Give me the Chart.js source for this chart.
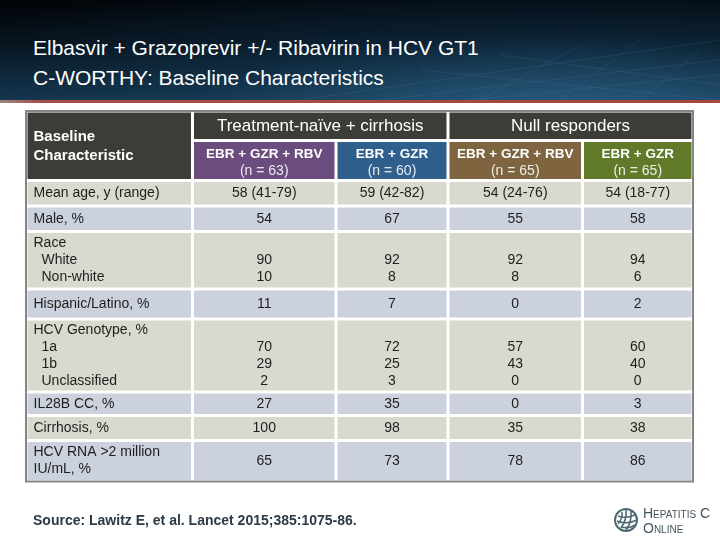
<!DOCTYPE html>
<html>
<head>
<meta charset="utf-8">
<script src="https://cdn.jsdelivr.net/npm/chart.js@4.4.1/dist/chart.umd.min.js"></script>
<style>
  body { margin: 0; width: 720px; height: 540px; position: relative; overflow: hidden; background: #fff; font-family: "Liberation Sans", Arial, sans-serif; }
  #band { position: absolute; left: 0; top: 0; width: 720px; height: 100px;
    background: radial-gradient(ellipse 700px 160px at 560px 120px, rgba(50,110,150,0.75), rgba(20,60,90,0.35) 55%, rgba(0,0,0,0) 100%),
                linear-gradient(180deg, #020509 0%, #07131d 45%, #14344c 100%); }
  #band svg { position: absolute; left: 0; top: 0; }
  #rule { position: absolute; left: 0; top: 100px; width: 720px; height: 3px; background: linear-gradient(90deg, #9a8580 0%, #a64d45 6%, #a8463e 100%); }
  h1 { position: absolute; left: 33px; top: 33px; margin: 0; font-weight: normal; font-size: 21px; line-height: 30px; color: #fff; }
  #table { position: absolute; left: 0; top: 0; }
  #source { position: absolute; left: 33px; top: 512px; font-size: 14px; font-weight: bold; color: #2c3947; }
  #logo { position: absolute; left: 613px; top: 506px; }
  #logo .txt { position: absolute; left: 30px; top: 0px; font-size: 14px; line-height: 15px; font-variant: small-caps; color: #44555e; white-space: nowrap; }
</style>
</head>
<body>
<div id="band">
  <svg width="720" height="100">
    <g stroke="#5a8fb0" stroke-opacity="0.16" stroke-width="1">
      <line x1="300" y1="100" x2="720" y2="40"/>
      <line x1="380" y1="100" x2="720" y2="60"/>
      <line x1="470" y1="100" x2="720" y2="75"/>
      <line x1="420" y1="70" x2="720" y2="100"/>
      <line x1="500" y1="55" x2="720" y2="85"/>
      <line x1="560" y1="100" x2="640" y2="40"/>
      <line x1="640" y1="100" x2="700" y2="50"/>
      <line x1="480" y1="100" x2="580" y2="45"/>
    </g>
  </svg>
</div>
<div id="rule"></div>
<h1>Elbasvir + Grazoprevir +/- Ribavirin in HCV GT1<br>C-WORTHY: Baseline Characteristics</h1>
<canvas id="table" width="720" height="540"></canvas>
<div id="source">Source: Lawitz E, et al. Lancet 2015;385:1075-86.</div>
<div id="logo">
  <svg width="28" height="28" viewBox="0 0 28 28">
    <circle cx="13" cy="14" r="11" fill="none" stroke="#4d6a73" stroke-width="2"/>
    <g stroke="#4d6a73" stroke-width="1.6" fill="none">
      <path d="M5 18 Q10 12 9 6"/>
      <path d="M8 22 Q14 14 13 4"/>
      <path d="M13 24 Q19 16 18 5"/>
      <path d="M5 10 Q12 13 22 9"/>
      <path d="M4 15 Q14 19 24 14"/>
      <path d="M8 21 Q16 23 22 19"/>
    </g>
  </svg>
  <div class="txt">Hepatitis C<br>Online</div>
</div>

<script>
// data
const cohorts = ['Treatment-naïve + cirrhosis', 'Null responders'];
const arms = ['EBR + GZR + RBV', 'EBR + GZR', 'EBR + GZR + RBV', 'EBR + GZR'];
const armN = [63, 60, 65, 65];
const characteristics = [
  ['Mean age, y (range)'],
  ['Male, %'],
  ['Race', ' White', ' Non-white'],
  ['Hispanic/Latino, %'],
  ['HCV Genotype, %', ' 1a', ' 1b', ' Unclassified'],
  ['IL28B CC, %'],
  ['Cirrhosis, %'],
  ['HCV RNA >2 million', 'IU/mL, %']
];
const naiveEbrGzrRbv = [['58 (41-79)'], ['54'], ['90', '10'], ['11'], ['70', '29', '2'], ['27'], ['100'], ['65']];
const naiveEbrGzr = [['59 (42-82)'], ['67'], ['92', '8'], ['7'], ['72', '25', '3'], ['35'], ['98'], ['73']];
const nullEbrGzrRbv = [['54 (24-76)'], ['55'], ['92', '8'], ['0'], ['57', '43', '0'], ['0'], ['35'], ['78']];
const nullEbrGzr = [['54 (18-77)'], ['58'], ['94', '6'], ['2'], ['60', '40', '0'], ['3'], ['38'], ['86']];
const armValues = [naiveEbrGzrRbv, naiveEbrGzr, nullEbrGzrRbv, nullEbrGzr];

// layout / style
const colWidths = [166.5, 143.5, 112, 134.5, 110.5];
const rowHeights = [29.5, 40, 25.5, 25.5, 57.5, 30, 73, 23.5, 25, 41];
const headerDark = '#3e3c36';
const armColors = ['#6a4c7e', '#2f5f8c', '#7e6540', '#617a2a'];
const rowColors = ['#d9d9cf', '#cbd2dd'];
const gap = 1.5;
const lineH = 17;

const edges = arr => arr.reduce((acc, w) => { acc.push(acc[acc.length - 1] + w); return acc; }, [0]);
const colEdges = edges(colWidths);
const rowEdges = edges(rowHeights);

const tablePlugin = {
  id: 'tablePlugin',
  afterDraw(chart) {
    const { ctx, scales: { x, y } } = chart;
    const cell = (c0, c1, r0, r1, color) => {
      const left = x.getPixelForValue(colEdges[c0]) + gap;
      const right = x.getPixelForValue(colEdges[c1]) - gap;
      const top = y.getPixelForValue(rowEdges[r0]) + gap;
      const bottom = y.getPixelForValue(rowEdges[r1]) - gap;
      ctx.fillStyle = color;
      ctx.fillRect(left, top, right - left, bottom - top);
      return { left, right, top, bottom, cx: (left + right) / 2, cy: (top + bottom) / 2 };
    };
    ctx.save();
    ctx.textBaseline = 'middle';

    // header: label cell
    const lab = cell(0, 1, 0, 2, headerDark);
    ctx.fillStyle = '#fff';
    ctx.font = 'bold 15px "Liberation Sans", Arial, sans-serif';
    ctx.textAlign = 'left';
    ctx.fillText('Baseline', lab.left + 6, lab.cy - 9);
    ctx.fillText('Characteristic', lab.left + 6, lab.cy + 10);

    // cohort cells
    cohorts.forEach((name, i) => {
      const b = cell(1 + i * 2, 3 + i * 2, 0, 1, headerDark);
      ctx.fillStyle = '#fff';
      ctx.font = '17px "Liberation Sans", Arial, sans-serif';
      ctx.textAlign = 'center';
      ctx.fillText(name, b.cx, b.cy + 0.5);
    });

    // arm cells
    arms.forEach((name, i) => {
      const b = cell(1 + i, 2 + i, 1, 2, armColors[i]);
      ctx.fillStyle = '#fff';
      ctx.textAlign = 'center';
      ctx.font = 'bold 13.5px "Liberation Sans", Arial, sans-serif';
      ctx.fillText(name, b.cx, b.cy - 6.5);
      ctx.fillStyle = 'rgba(255,255,255,0.88)';
      ctx.font = '14px "Liberation Sans", Arial, sans-serif';
      ctx.fillText('(n = ' + armN[i] + ')', b.cx, b.cy + 10.5);
    });

    // body rows
    ctx.font = '14px "Liberation Sans", Arial, sans-serif';
    characteristics.forEach((lines, r) => {
      const color = rowColors[r % 2];
      const row = r + 2;
      const l = cell(0, 1, row, row + 1, color);
      const firstY = l.cy - (lines.length - 1) * lineH / 2;
      ctx.fillStyle = '#1e1e1e';
      ctx.textAlign = 'left';
      lines.forEach((t, k) => {
        const indent = t.startsWith(' ') ? 8 : 0;
        ctx.fillText(t.trim(), l.left + 6 + indent, firstY + k * lineH);
      });
      armValues.forEach((vals, a) => {
        const b = cell(1 + a, 2 + a, row, row + 1, color);
        const v = vals[r];
        ctx.fillStyle = '#1e1e1e';
        ctx.textAlign = 'center';
        if (v.length === 1) {
          ctx.fillText(v[0], b.cx, b.cy);
        } else {
          const start = lines.length - v.length;
          v.forEach((t, k) => ctx.fillText(t, b.cx, firstY + (start + k) * lineH));
        }
      });
    });

    // outer border
    const L = x.getPixelForValue(0), R = x.getPixelForValue(colEdges[colEdges.length - 1]);
    const T = y.getPixelForValue(0), B = y.getPixelForValue(rowEdges[rowEdges.length - 1]);
    ctx.strokeStyle = '#858585';
    ctx.lineWidth = 2;
    ctx.strokeRect(L, T, R - L, B - T);
    ctx.restore();
  }
};

new Chart(document.getElementById('table'), {
  type: 'scatter',
  data: { datasets: [] },
  options: {
    responsive: false,
    animation: false,
    devicePixelRatio: 1,
    layout: { padding: { left: 26, right: 27, top: 111, bottom: 58.5 } },
    plugins: { legend: { display: false }, tooltip: { enabled: false } },
    scales: {
      x: { type: 'linear', display: false, min: 0, max: colEdges[colEdges.length - 1] },
      y: { type: 'linear', display: false, min: 0, max: rowEdges[rowEdges.length - 1], reverse: true }
    }
  },
  plugins: [tablePlugin]
});
</script>
</body>
</html>
